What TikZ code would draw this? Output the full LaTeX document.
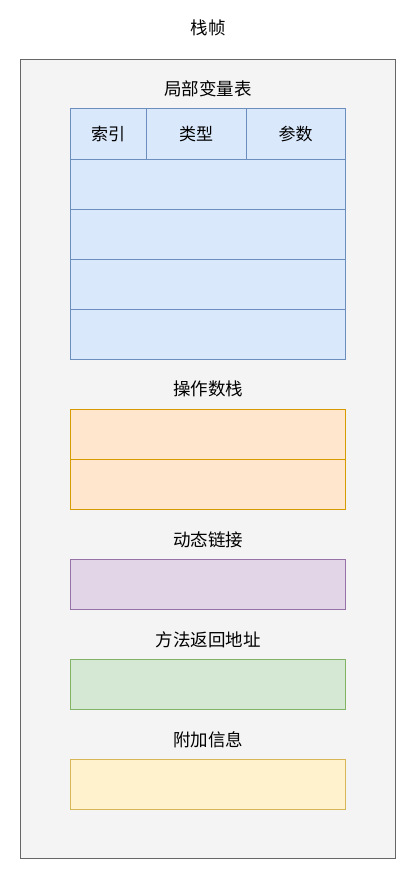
\documentclass[tikz,border=0pt]{standalone}
\usepackage{fontspec}
\newfontfamily\cjk{Noto Sans CJK SC}
\usepackage{tikz}
\usetikzlibrary{positioning}
\usepackage{xcolor}
\definecolor{sfgray}{HTML}{F4F4F4}
\definecolor{sfgraydraw}{HTML}{666666}
\definecolor{sfblue}{HTML}{DAE8FC}
\definecolor{sfbluedraw}{HTML}{6C8EBF}
\definecolor{sforange}{HTML}{FFE6CC}
\definecolor{sforangedraw}{HTML}{D79B00}
\definecolor{sfpurple}{HTML}{E1D5E7}
\definecolor{sfpurpledraw}{HTML}{9673A6}
\definecolor{sfgreen}{HTML}{D5E8D4}
\definecolor{sfgreendraw}{HTML}{82B366}
\definecolor{sfyellow}{HTML}{FFF2CC}
\definecolor{sfyellowdraw}{HTML}{D6B656}
\tikzstyle{frame} = [rectangle, draw=sfgraydraw, fill=sfgray, line width=1pt, minimum width=375pt, minimum height=798pt, inner sep=0pt, outer sep=0pt]
\tikzstyle{cell} = [rectangle, line width=1pt, minimum width=275pt, minimum height=50pt, inner sep=0pt, outer sep=0pt, font=\cjk\fontsize{17}{20}\selectfont]
\tikzstyle{bluecell} = [cell, draw=sfbluedraw, fill=sfblue]
\tikzstyle{orangecell} = [cell, draw=sforangedraw, fill=sforange]
\tikzstyle{purplecell} = [cell, draw=sfpurpledraw, fill=sfpurple]
\tikzstyle{greencell} = [cell, draw=sfgreendraw, fill=sfgreen]
\tikzstyle{yellowcell} = [cell, draw=sfyellowdraw, fill=sfyellow]
\tikzstyle{titletext} = [inner sep=0pt, font=\cjk\fontsize{17.5}{20}\selectfont]

\begin{document}
\begin{tikzpicture}[x=1pt, y=-1pt]
\useasboundingbox (0,0) rectangle (415,880);
\node (frame) [frame, anchor=north west] at (20,60) {};
\node (ftitle) [titletext] at (208,28) {栈帧};

% local variable table
\node (lvtitle) [titletext] at (208,89) {局部变量表};
\node (idx) [bluecell, minimum width=76pt, anchor=north west] at (70,109) {索引};
\node (typ) [bluecell, minimum width=100pt, right=0pt of idx] {类型};
\node (par) [bluecell, minimum width=99pt, right=0pt of typ] {参数};
\node (lv1) [bluecell, anchor=north west] at (70,159) {};
\node (lv2) [bluecell, below=0pt of lv1] {};
\node (lv3) [bluecell, below=0pt of lv2] {};
\node (lv4) [bluecell, below=0pt of lv3] {};

% operand stack
\node (ostitle) [titletext] at (208,389) {操作数栈};
\node (os1) [orangecell, anchor=north west] at (70,409) {};
\node (os2) [orangecell, below=0pt of os1] {};

% dynamic linking
\node (dltitle) [titletext] at (208,540) {动态链接};
\node (dl) [purplecell, anchor=north west] at (70,559) {};

% return address
\node (ratitle) [titletext] at (208,640) {方法返回地址};
\node (ra) [greencell, anchor=north west] at (70,659) {};

% extra info
\node (extitle) [titletext] at (208,740) {附加信息};
\node (ex) [yellowcell, anchor=north west] at (70,759) {};
\end{tikzpicture}
\end{document}
